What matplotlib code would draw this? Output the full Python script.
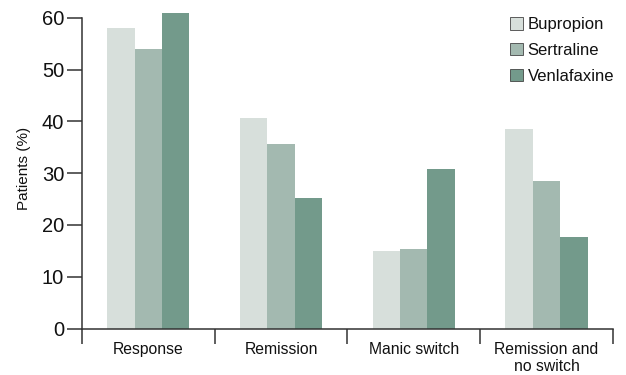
import numpy as np
import matplotlib.pyplot as plt
from matplotlib.ticker import FixedLocator

plt.rcParams['font.family'] = ['Liberation Sans', 'DejaVu Sans']

categories = ['Response', 'Remission', 'Manic switch', 'Remission and\nno switch']
drugs = ['Bupropion', 'Sertraline', 'Venlafaxine']
bupropion = [58, 40.7, 15.0, 38.6]
sertraline = [54, 35.6, 15.4, 28.5]
venlafaxine = [61, 25.2, 30.8, 17.7]
colors = ['#d7dfdb', '#a3b9b0', '#739a8b']
yticks = [0, 10, 20, 30, 40, 50, 60]

fig = plt.figure(figsize=(6.26, 3.75), dpi=100)
ax = fig.add_axes([0.131, 0.124, 0.848, 0.856])

x = np.arange(len(categories))
w = 0.206
for i, (vals, c, name) in enumerate(zip([bupropion, sertraline, venlafaxine], colors, drugs)):
    ax.bar(x + (i - 1) * w, vals, w, color=c, label=name, linewidth=0)

ax.set_xlim(-0.5, len(categories) - 0.5)
ax.set_ylim(0, 62)
ax.set_yticks(yticks)
ax.set_xticks(x)
ax.set_xticklabels(categories, fontsize=11.3, color='#111111', linespacing=1.12)
ax.xaxis.set_minor_locator(FixedLocator(np.arange(-0.5, len(categories), 1.0)))

# axes lines
spine_c = '#333333'
for s in ['top', 'right']:
    ax.spines[s].set_visible(False)
ax.spines['left'].set_bounds(0, 60)
for s in ['left', 'bottom']:
    ax.spines[s].set_color(spine_c)
    ax.spines[s].set_linewidth(1.1)

ax.tick_params(axis='y', length=10.8, width=1.1, color=spine_c, pad=2, labelsize=14.5, labelcolor='#111111')
ax.tick_params(axis='x', which='major', length=0, pad=10)
ax.tick_params(axis='x', which='minor', length=10.8, width=1.1, color=spine_c, direction='out')

ax.set_ylabel('Patients (%)', fontsize=11, labelpad=8, color='#111111')

leg = ax.legend(loc='upper right', bbox_to_anchor=(1.012, 0.985), frameon=False, fontsize=12,
                handlelength=0.75, handleheight=0.75, handletextpad=0.3, labelspacing=0.65,
                borderaxespad=0.0, borderpad=0.3)
for t in leg.get_texts():
    t.set_color('#111111')
for p in leg.get_patches():
    p.set_edgecolor('#444444')
    p.set_linewidth(0.6)

fig.savefig('out.png', dpi=100)
